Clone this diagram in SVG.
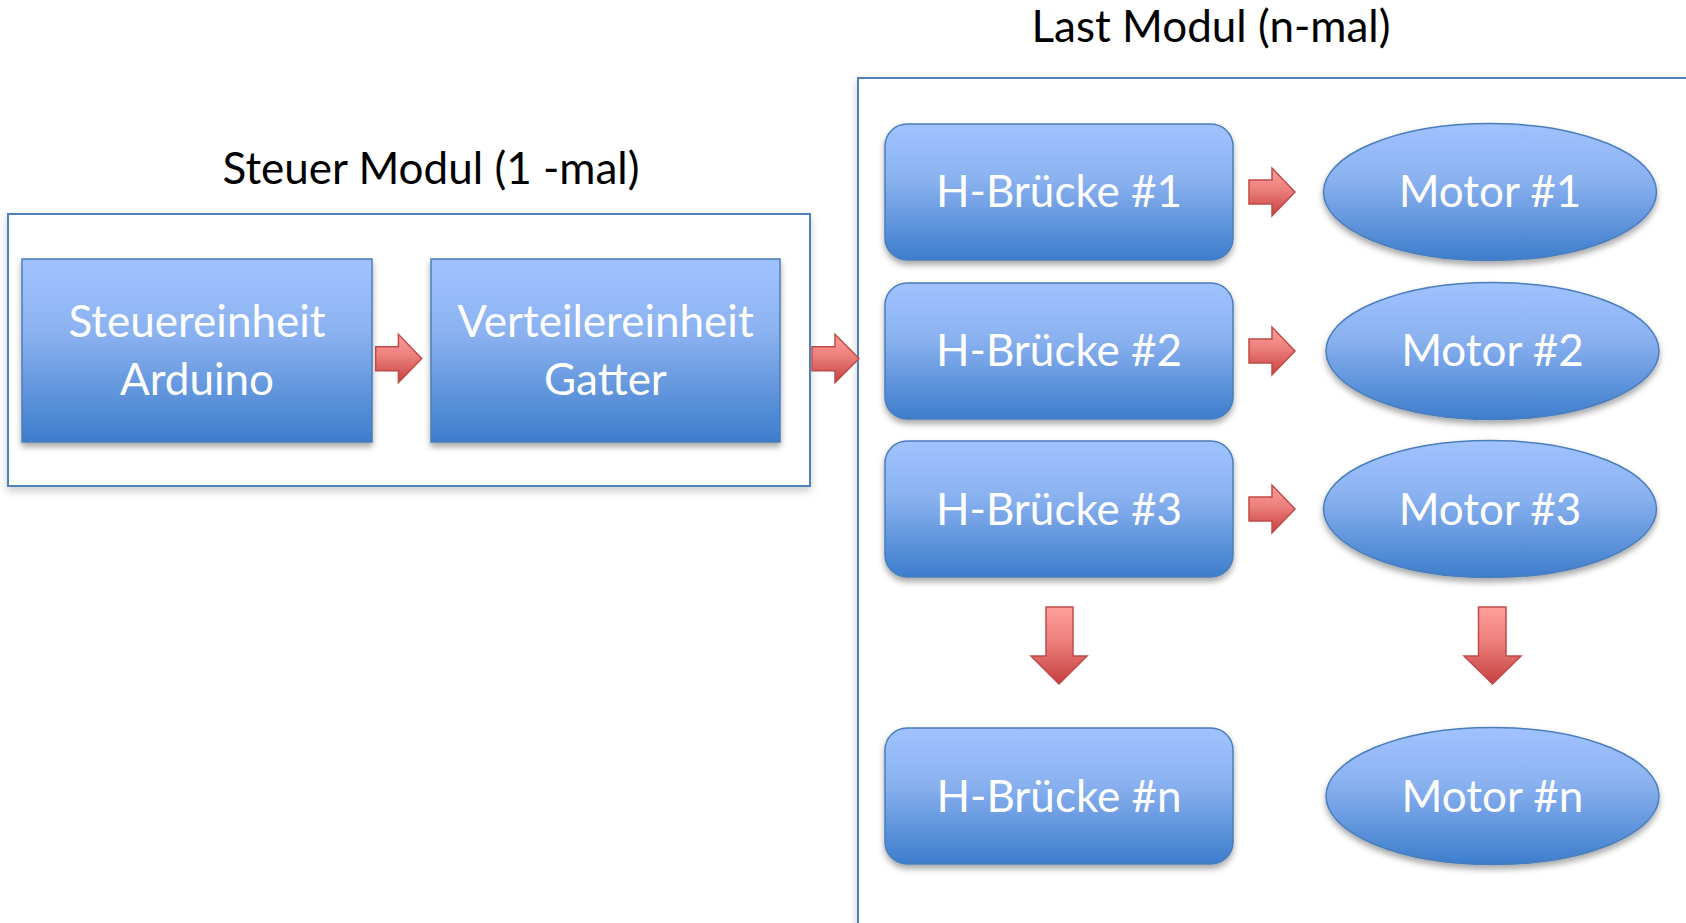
<svg xmlns="http://www.w3.org/2000/svg" width="1686" height="923" viewBox="0 0 1686 923">
<defs>
  <linearGradient id="gBlue" x1="0" y1="0" x2="0" y2="1">
    <stop offset="0" stop-color="#a0c3ff"/>
    <stop offset="0.4" stop-color="#8bb2f0"/>
    <stop offset="1" stop-color="#3d7dcc"/>
  </linearGradient>
  <linearGradient id="gRed" x1="0" y1="0" x2="0" y2="1">
    <stop offset="0" stop-color="#ff9f9c"/>
    <stop offset="0.45" stop-color="#ec7f7c"/>
    <stop offset="1" stop-color="#c6403e"/>
  </linearGradient>
  <filter id="sh" x="-10%" y="-10%" width="120%" height="130%">
    <feDropShadow dx="0" dy="4" stdDeviation="3" flood-color="#000" flood-opacity="0.35"/>
  </filter>
  <filter id="shf" x="-5%" y="-5%" width="110%" height="115%">
    <feDropShadow dx="0" dy="4" stdDeviation="4" flood-color="#000" flood-opacity="0.2"/>
  </filter>
</defs>
<style>
  .frame { fill: #ffffff; stroke: #4f81bd; stroke-width: 2; }
  .node { fill: url(#gBlue); stroke: #4a7ebb; stroke-width: 1.5; }
  .arrow { fill: url(#gRed); stroke: #be4b48; stroke-width: 1.5; }
  .title { font-family: Lato, "Noto Sans", sans-serif; font-size: 44px; fill: #000000; text-anchor: middle; }
  .label { font-family: Lato, "Noto Sans", sans-serif; font-size: 44px; fill: #ffffff; text-anchor: middle; }
</style>
<rect width="1686" height="923" fill="#ffffff"/>

<g id="steuer-modul">
  <rect class="frame" x="8" y="214" width="802" height="272" filter="url(#shf)"/>
  <text class="title" x="431" y="184">Steuer Modul (1 -mal)</text>
</g>
<g id="last-modul">
  <rect class="frame" x="858" y="78" width="860" height="880" filter="url(#shf)"/>
  <text class="title" x="1211" y="42">Last Modul (n-mal)</text>
</g>

<g id="steuereinheit">
  <rect class="node" x="22" y="259" width="350" height="183" filter="url(#sh)"/>
  <text class="label" x="197" y="337">Steuereinheit</text>
  <text class="label" x="197" y="395">Arduino</text>
</g>
<g id="verteilereinheit">
  <rect class="node" x="431" y="259" width="349" height="183" filter="url(#sh)"/>
  <text class="label" x="605.5" y="337">Verteilereinheit</text>
  <text class="label" x="605.5" y="395">Gatter</text>
</g>

<g id="hb1">
  <rect class="node" x="885" y="124" width="348" height="136" rx="22" ry="22" filter="url(#sh)"/>
  <text class="label" x="1059" y="207">H-Brücke #1</text>
</g>
<g id="hb2">
  <rect class="node" x="885" y="283" width="348" height="136" rx="22" ry="22" filter="url(#sh)"/>
  <text class="label" x="1059" y="366">H-Brücke #2</text>
</g>
<g id="hb3">
  <rect class="node" x="885" y="441" width="348" height="136" rx="22" ry="22" filter="url(#sh)"/>
  <text class="label" x="1059" y="524.5">H-Brücke #3</text>
</g>
<g id="hbn">
  <rect class="node" x="885" y="728" width="348" height="136" rx="22" ry="22" filter="url(#sh)"/>
  <text class="label" x="1059" y="811.5">H-Brücke #n</text>
</g>

<g id="m1">
  <ellipse class="node" cx="1490" cy="192" rx="166.5" ry="68.5" filter="url(#sh)"/>
  <text class="label" x="1490" y="207">Motor #1</text>
</g>
<g id="m2">
  <ellipse class="node" cx="1492.5" cy="351" rx="166.5" ry="68.5" filter="url(#sh)"/>
  <text class="label" x="1492.5" y="366">Motor #2</text>
</g>
<g id="m3">
  <ellipse class="node" cx="1490" cy="509" rx="166.5" ry="68.5" filter="url(#sh)"/>
  <text class="label" x="1490" y="524.5">Motor #3</text>
</g>
<g id="mn">
  <ellipse class="node" cx="1492.5" cy="796" rx="166.5" ry="68.5" filter="url(#sh)"/>
  <text class="label" x="1492.5" y="811.5">Motor #n</text>
</g>

<g id="connectors">
  <path class="arrow" d="M375.7,346.7 L398.4,346.7 L398.4,334.3 L421.7,358.5 L398.4,382.7 L398.4,370.7 L375.7,370.7 Z"/>
  <path class="arrow" d="M812,346.7 L835,346.7 L835,334.3 L859,358.5 L835,382.7 L835,370.7 L812,370.7 Z"/>
  <path class="arrow" d="M1249,180 L1272,180 L1272,168 L1295,192 L1272,216 L1272,204 L1249,204 Z"/>
  <path class="arrow" d="M1249,339 L1272,339 L1272,327 L1295,351 L1272,375 L1272,363 L1249,363 Z"/>
  <path class="arrow" d="M1249,497 L1272,497 L1272,485 L1295,509 L1272,533 L1272,521 L1249,521 Z"/>
  <path class="arrow" d="M1046,607 L1073,607 L1073,656 L1087,656 L1059,684 L1031,656 L1046,656 Z"/>
  <path class="arrow" d="M1478.5,607 L1506,607 L1506,656 L1521,656 L1492.5,684 L1464,656 L1478.5,656 Z"/>
</g>
</svg>
